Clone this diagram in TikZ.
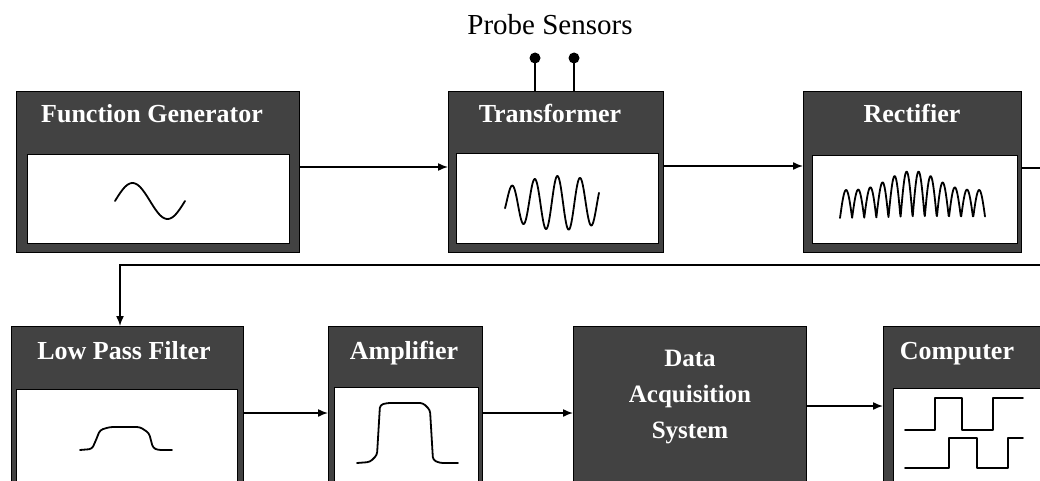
\documentclass[tikz,border=0pt]{standalone}
\usepackage{fontspec}
\setmainfont{Liberation Serif}
\usetikzlibrary{arrows.meta}
\definecolor{hdr}{RGB}{66,66,66}
\begin{document}
\begin{tikzpicture}[x=1pt,y=-1pt,
  box/.style={draw=black,line width=1pt,fill=hdr,inner sep=0pt,outer sep=0pt,anchor=north west},
  panel/.style={fill=white,draw=black,line width=0.8pt,inner sep=0pt,outer sep=0pt,anchor=north west},
  hdrtxt/.style={text=white,font=\fontsize{26}{30}\selectfont\bfseries,anchor=base,inner sep=0pt},
  conn/.style={line width=1.5pt},
  arr/.style={conn,-{Latex[length=10pt,width=8pt]}},
  wave/.style={line width=1.8pt,line join=round,line cap=round}]
\useasboundingbox (0,0) rectangle (1040,481);
\clip (0,0) rectangle (1040,481);

% top row boxes
\node[box,minimum width=283pt,minimum height=160pt] (fg) at (16,92) {};
\node[panel,minimum width=262pt,minimum height=89pt] (fgp) at (27,154) {};
\node[box,minimum width=215pt,minimum height=160pt] (tr) at (448,92) {};
\node[panel,minimum width=202pt,minimum height=90pt] (trp) at (456,153) {};
\node[box,minimum width=218pt,minimum height=160pt] (rc) at (803,92) {};
\node[panel,minimum width=205pt,minimum height=88pt] (rcp) at (812,155) {};

% bottom row boxes
\node[box,minimum width=232pt,minimum height=174pt] (lpf) at (11,326) {};
\node[panel,minimum width=221pt,minimum height=100pt] (lpfp) at (16,389) {};
\node[box,minimum width=154pt,minimum height=174pt] (amp) at (328,326) {};
\node[panel,minimum width=144pt,minimum height=100pt] (ampp) at (334,387) {};
\node[box,minimum width=233pt,minimum height=174pt] (das) at (573,326) {};
\node[box,minimum width=180pt,minimum height=174pt] (comp) at (883,326) {};
\node[panel,minimum width=170pt,minimum height=100pt] (compp) at (893,388) {};

% header texts
\node[hdrtxt] (fgt) at (152,123) {Function Generator};
\node[hdrtxt] (trt) at (550,123) {Transformer};
\node[hdrtxt] (rct) at (912,123) {Rectifier};
\node[hdrtxt] (lpft) at (124,359) {Low Pass Filter};
\node[hdrtxt] (ampt) at (404,359) {Amplifier};
\node[hdrtxt] (compt) at (957,359) {Computer};
\node[text=white,font=\fontsize{25}{36}\selectfont\bfseries,align=center,inner sep=0pt] (dast) at (690,397) {Data\\Acquisition\\System};

% probe sensors
\node[font=\fontsize{29}{34}\selectfont,anchor=base,inner sep=0pt] (ps) at (550,35) {Probe Sensors};
\coordinate (p1) at (535,58);
\coordinate (p2) at (574,58);
\draw[conn] (p1) -- (p1 |- tr.north);
\draw[conn] (p2) -- (p2 |- tr.north);
\fill (p1) circle (5.5pt);
\fill (p2) circle (5.5pt);

% connectors
\coordinate (fb1) at (1040.6,265);
\coordinate (fb2) at (120,265);
\draw[arr] ([yshift=5pt]fg.east) -- ([yshift=5pt]tr.west);
\draw[arr] ([yshift=6pt]tr.east) -- ([yshift=6pt]rc.west);
\draw[arr] ([yshift=4pt]rc.east) -| (fb1) -- (fb2) -- (fb2 |- lpf.north);
\draw[arr] (lpf.east) -- (amp.west);
\draw[arr] (amp.east) -- (das.west);
\draw[arr] ([yshift=7pt]das.east) -- ([yshift=7pt]comp.west);

% waveforms
\draw[wave] plot[domain=0:70,samples=60] ({115+\x},{201-18*sin(5.1429*\x)});
\draw[wave] plot[domain=0:94,samples=200] ({505+\x},{203-(15+12*sin(1.6364*\x))*sin(15.859*(\x-1.3))});
\draw[wave] plot[domain=0:145,samples=300] ({840+\x},{218-(28+19*(sin(1.2414*\x))^4)*abs(sin(14.876*\x))});
\draw[wave,rounded corners=3pt] (80,450) -- (92,449) -- (96,440) -- (100,430) -- (110,427) -- (140,427) -- (149,433) -- (153,448) -- (158,450) -- (172,450);
\draw[wave,rounded corners=3pt] (357,463) -- (370,462) -- (377,455) -- (380,405) -- (387,403) -- (423,403) -- (430,410) -- (433,460) -- (440,463) -- (458,463);
\draw[wave] (905,430) -- (935,430) -- (935,398) -- (962,398) -- (962,430) -- (993,430) -- (993,398) -- (1023,398);
\draw[wave] (905,468) -- (949,468) -- (949,438) -- (977,438) -- (977,468) -- (1008,468) -- (1008,438) -- (1023,438);
\end{tikzpicture}
\end{document}
